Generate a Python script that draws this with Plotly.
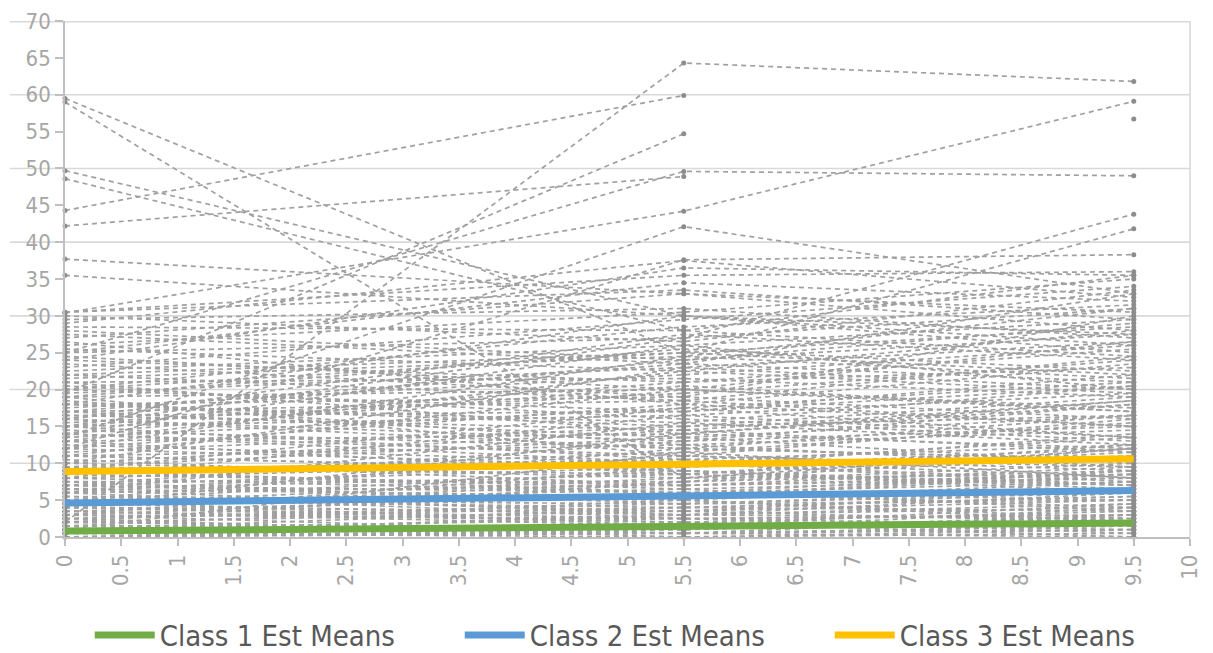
import plotly.graph_objects as go

# ---------------- data ----------------
times = [0, 5.5, 9.5]

# individual trajectories: score at time 0, 5.5 and 9.5 (None = missing)
score_t0 = [
    0.0, 0.5, 1.0, 0.0, 1.5, 2.0, 0.5, 2.5, 3.0, 1.0, 0.0, 3.5, 2.0, 4.0, 1.5, 0.5, 2.5, 3.0, 4.5, 1.0,
    5.0, 6.0, 4.5, 7.0, 5.5, 3.5, 8.0, 6.5, 4.0, 7.5, 5.0, 6.0, 8.5, 3.0, 7.0, 5.5, 4.5, 6.5, 8.0, 2.5,
    9.0, 5.0, 7.5, 6.0, 4.0,
    9.0, 10.0, 11.0, 12.0, 13.0, 14.0, 15.0, 16.0, 17.0, 18.0, 19.0, 20.0, 21.0, 9.5, 10.5, 11.5, 12.5,
    13.5, 14.5, 15.5, 16.5, 17.5, 18.5, 19.5, 20.5, 8.5, 9.0, 10.0, 11.0, 12.0, 13.0, 14.0, 15.0, 16.0,
    17.0, 18.0, 19.0, 20.0, 21.0, 22.0,
    24.5, 25.0, 25.5, 26.0, 28.0, 29.5, 30.0, 30.5, 23.0, 27.0, 29.0, 24.0,
    59.5, 59.0, 49.7, 48.6, 44.3, 42.2, 25.0, 2.0, 19.5, 30.4, 13.5, 37.7, 35.5, 15.0, 22.0, 20.0, 12.0,
    3.5, 7.0, 1.0, 11.0, 16.0, 5.0, 2.0, 9.5, 0.5, 6.5, 14.0, 4.0, 18.0, 1.5,
    21.5, 22.5, 23.5, 20.0, 19.0, 18.0, 17.0, 16.0, 15.0, 14.0, 13.0, 12.0, 11.0, 10.0, 26.5, 27.5,
    28.5, 30.5, 25.0, 24.0, 8.0, 7.0, 6.0, 5.0, 9.0, 3.0, 2.0, 1.0, 4.0, 16.5,
]
score_t55 = [
    0.5, 0.0, 1.5, 2.0, 0.5, 1.0, 3.0, 0.0, 2.5, 4.0, 1.0, 1.5, 3.5, 2.0, 5.0, 0.5, 4.5, 0.5, 3.0, 2.5,
    4.0, 7.0, 6.5, 5.0, 3.5, 5.5, 6.0, 8.5, 7.5, 4.5, 9.0, 2.5, 7.0, 6.0, 9.5, 5.0, 8.0, 3.0, 10.0, 4.0,
    6.5, 1.5, 7.5, 11.0, 3.5,
    10.5, 8.0, 12.5, 9.5, 14.0, 11.0, 16.5, 13.0, 18.5, 15.5, 20.0, 17.0, 21.5, 13.5, 7.0, 15.0, 10.0,
    17.5, 12.0, 19.5, 14.5, 22.0, 12.5, 23.0, 16.0, 11.5, 6.0, 14.5, 9.0, 18.0, 8.5, 20.5, 10.5, 24.0,
    13.5, 19.0, 11.0, 25.0, 14.0, 18.5,
    20.0, 27.0, 22.5, 30.5, 24.0, 31.0, 26.5, 35.5, 29.5, 33.0, 37.5, 21.0,
    25.0, 8.0, 30.0, 28.0, 59.9, 48.9, 49.6, 64.3, 54.7, 44.2, 42.1, 33.0, 30.0, 27.0, 25.0, None, 37.6,
    2.0, 6.0, 0.5, 9.0, 12.0, 4.5, 1.0, 8.5, 3.0, 5.5, 10.0, 2.5, 15.0, 1.5,
    24.5, 26.0, 19.0, 28.5, 25.5, 30.0, 23.5, 27.5, 21.0, 26.0, 22.5, 24.5, 20.0, 23.0, 18.0, 23.5,
    28.0, 33.5, 34.5, 36.5, 16.5, 13.0, 15.5, 12.0, 17.5, 9.5, 7.5, 11.5, 14.0, 17.0,
]
score_t95 = [
    1.0, 0.5, 2.0, 0.0, 1.5, 3.0, 2.5, 1.0, 0.5, 3.5, 4.0, 2.0, 5.0, 1.0, 2.0, 3.0, 6.0, 0.0, 4.5, 1.5,
    5.5, 8.0, 3.5, 7.5, 6.5, 9.0, 4.0, 7.0, 10.0, 5.0, 6.0, 3.0, 9.5, 7.5, 11.0, 2.5, 8.5, 6.0, 7.0, 5.5,
    8.0, 4.5, 12.0, 9.0, 2.0,
    12.5, 11.0, 9.5, 14.0, 12.0, 16.0, 13.5, 18.0, 15.0, 20.5, 17.5, 22.0, 19.0, 10.0, 8.5, 16.5, 7.5,
    21.0, 10.5, 24.0, 11.5, 26.0, 14.5, 20.0, 13.0, 15.5, 9.0, 18.5, 6.5, 23.5, 12.5, 17.0, 8.0, 27.5,
    16.5, 30.0, 9.5, 28.5, 18.0, 24.5,
    26.5, 31.0, 19.5, 35.0, 29.0, 27.0, 33.5, 36.0, 34.0, 30.5, 32.5, 23.0,
    22.0, 12.0, 26.0, 35.5, None, None, 49.0, 61.8, None, 59.1, 33.0, 28.0, 25.0, 43.8, 41.8, 56.7, 38.3,
    3.5, 5.0, 1.5, 7.0, 10.5, 6.5, 2.5, 11.5, 4.0, 8.5, 13.5, 3.0, 19.0, 2.0,
    21.5, 29.5, 16.0, 31.5, 22.5, 27.5, 33.0, 24.0, 25.5, 20.0, 28.0, 31.0, 17.0, 26.5, 15.0, 21.0,
    24.5, 29.5, 32.0, 35.5, 19.5, 15.0, 12.5, 16.5, 13.5, 12.0, 9.0, 8.0, 18.5, 20.5,
]

# estimated class means
class1_means = [0.8, 1.4, 1.9]
class2_means = [4.6, 5.6, 6.3]
class3_means = [8.9, 9.9, 10.6]

y_ticks = [0, 5, 10, 15, 20, 25, 30, 35, 40, 45, 50, 55, 60, 65, 70]
x_ticks = [0, 0.5, 1, 1.5, 2, 2.5, 3, 3.5, 4, 4.5, 5, 5.5, 6, 6.5, 7, 7.5, 8, 8.5, 9, 9.5, 10]

# ---------------- figure ----------------
FONT = "Liberation Sans Narrow, DejaVu Sans Condensed, Arial Narrow, sans-serif"
GREY_LINE = "#a0a0a0"
GREY_MARK = "#8c8c8c"
GRID = "#d9d9d9"

fig = go.Figure()

for a, b, c in zip(score_t0, score_t55, score_t95):
    fig.add_trace(go.Scatter(
        x=times, y=[a, b, c], mode="lines+markers",
        line=dict(color=GREY_LINE, width=1.7, dash="5px,4px"),
        marker=dict(color=GREY_MARK, size=5),
        connectgaps=False, cliponaxis=False, showlegend=False, hoverinfo="skip",
    ))

for name, vals, col in [("Class 1 Est Means", class1_means, "#70ad47"),
                        ("Class 2 Est Means", class2_means, "#5b9bd5"),
                        ("Class 3 Est Means", class3_means, "#ffc000")]:
    fig.add_trace(go.Scatter(
        x=times, y=vals, mode="lines", name=name,
        line=dict(color=col, width=7), cliponaxis=False,
    ))

shapes = []
for yv in [10, 20, 30, 40, 50, 60, 70]:
    shapes.append(dict(type="line", xref="paper", yref="y", x0=-0.049, x1=1, y0=yv, y1=yv,
                       line=dict(color=GRID, width=3 if yv == 70 else 1.6), layer="below"))
shapes.append(dict(type="line", xref="paper", yref="paper", x0=1, x1=1, y0=0, y1=1,
                   line=dict(color=GRID, width=1.6), layer="below"))

fig.update_layout(
    width=1205, height=645,
    margin=dict(l=57, r=23, t=13, b=116, autoexpand=False),
    plot_bgcolor="white", paper_bgcolor="white",
    shapes=shapes,
    font=dict(family=FONT, color="#a6a6a6"),
    xaxis=dict(range=[0, 10], tickvals=x_ticks, ticktext=[f"{v:g}" for v in x_ticks],
               tickangle=-90, ticks="outside", ticklen=7, tickcolor="#bfbfbf", tickwidth=1.5,
               showline=True, linecolor="#bfbfbf", linewidth=1.6, showgrid=False, zeroline=False,
               automargin=False,
               tickfont=dict(size=22, color="#a6a6a6", family=FONT)),
    yaxis=dict(range=[0, 70], tickvals=y_ticks, ticktext=[str(v) for v in y_ticks],
               ticks="outside", ticklen=8, tickcolor="#bfbfbf", tickwidth=1.5,
               showline=True, linecolor="#bfbfbf", linewidth=1.6, showgrid=False, zeroline=False,
               automargin=False, ticklabeloverflow="allow",
               tickfont=dict(size=22, color="#a6a6a6", family=FONT)),
    legend=dict(orientation="h", x=0.022, xanchor="left", y=-0.19, yanchor="middle",
                font=dict(size=29, color="#595959", family=FONT),
                entrywidth=295, entrywidthmode="pixels", itemwidth=60),
)

fig.write_html("out.html")
